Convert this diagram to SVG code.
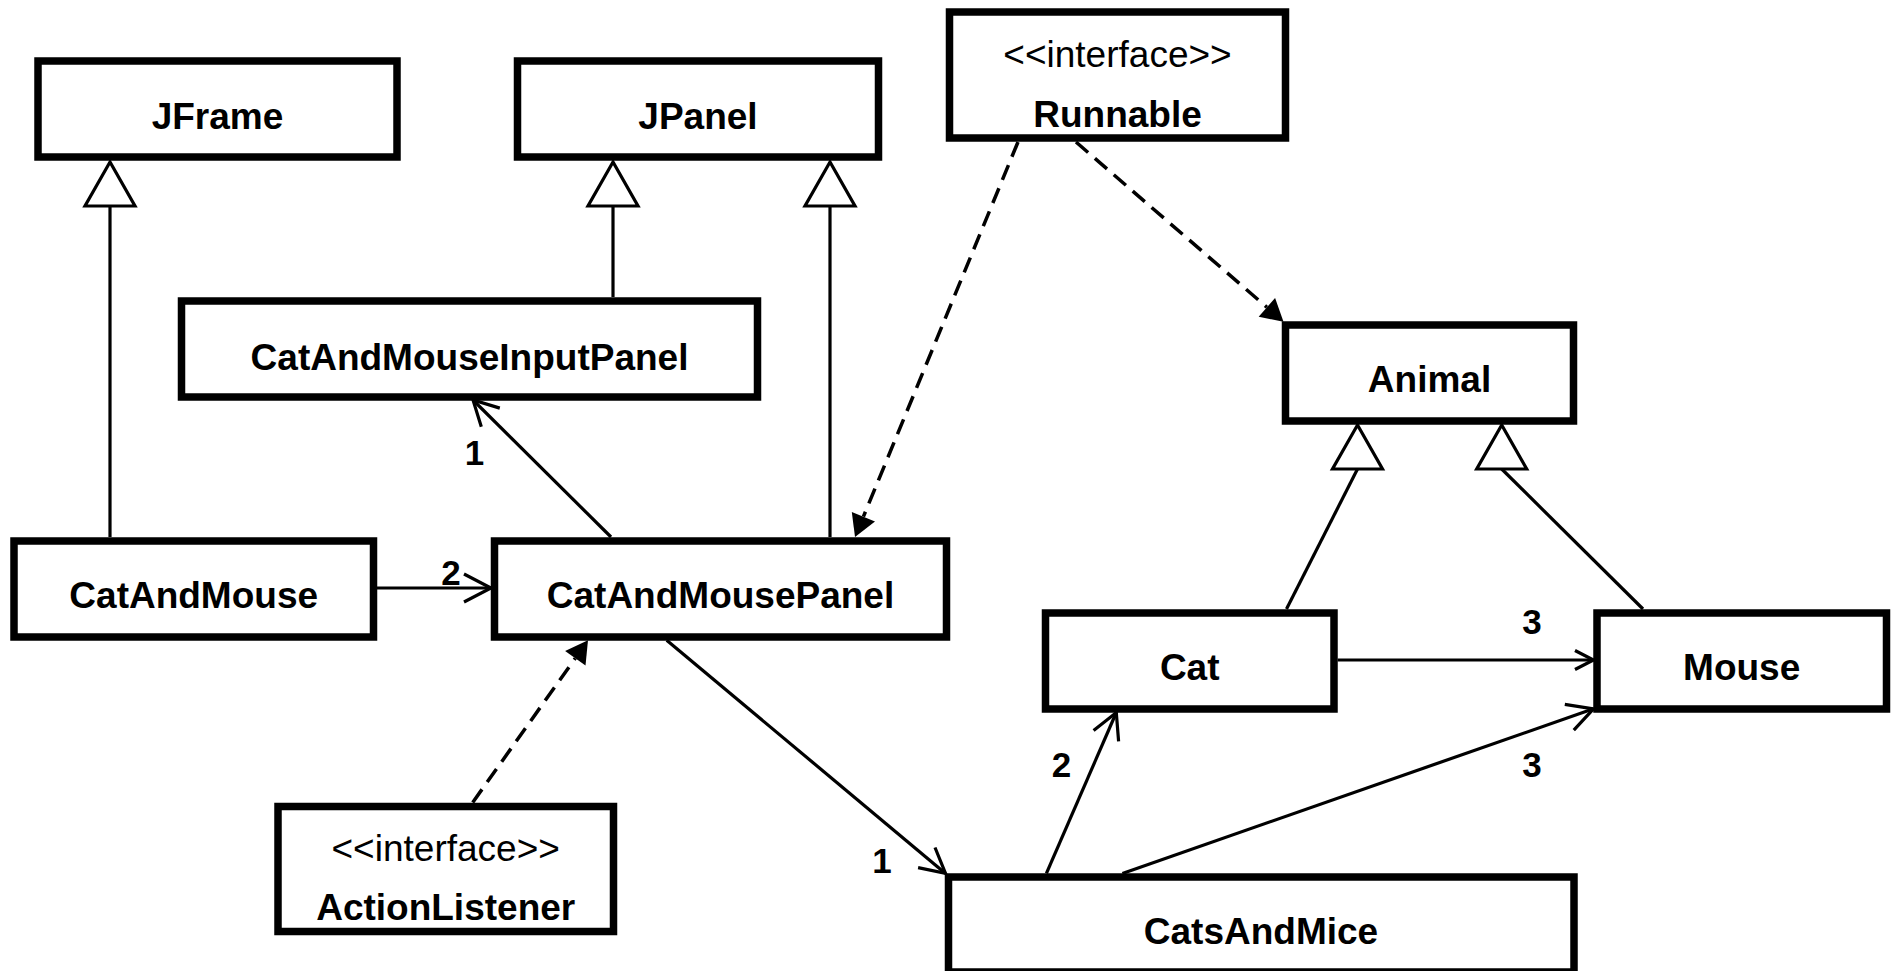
<svg xmlns="http://www.w3.org/2000/svg" width="1893" height="971" viewBox="0 0 1893 971">
<style>
.box{fill:#fff;stroke:#000;stroke-width:7.5}
.name{font-family:"Liberation Sans",Arial,sans-serif;font-weight:bold;font-size:37px;text-anchor:middle;fill:#000}
.stereo{font-family:"Liberation Sans",Arial,sans-serif;font-size:37px;text-anchor:middle;fill:#000}
.lbl{font-family:"Liberation Sans",Arial,sans-serif;font-weight:bold;font-size:35px;text-anchor:middle;fill:#000}
.ln{fill:none;stroke:#000;stroke-width:3.2}
.dash{fill:none;stroke:#000;stroke-width:3.5;stroke-dasharray:16 9}
.tri{fill:#fff;stroke:#000;stroke-width:3.2;stroke-linejoin:miter}
.fill{fill:#000;stroke:none}
</style>
<rect x="0" y="0" width="1893" height="971" fill="#fff"/>
<g id="connectors">
  <line class="ln" x1="110" y1="206" x2="110" y2="537"/>
  <polygon class="tri" points="110,162 85,206 135,206"/>
  <line class="ln" x1="613" y1="206" x2="613" y2="297"/>
  <polygon class="tri" points="613,162 588,206 638,206"/>
  <line class="ln" x1="830" y1="206" x2="830" y2="537"/>
  <polygon class="tri" points="830,162 805,206 855,206"/>
  <line class="ln" x1="1357.5" y1="469" x2="1286.5" y2="609"/>
  <polygon class="tri" points="1357.5,425 1332.5,469 1382.5,469"/>
  <line class="ln" x1="1501.7" y1="469" x2="1643" y2="609"/>
  <polygon class="tri" points="1501.7,425 1476.7,469 1526.7,469"/>
  <line class="dash" x1="1018" y1="142" x2="863.4" y2="516.7"/>
  <polygon class="fill" points="855,537 875,521.4 851.8,511.9"/>
  <line class="dash" x1="1076" y1="142" x2="1266.9" y2="307.3"/>
  <polygon class="fill" points="1283.5,321.7 1258.7,316.8 1275.1,297.9"/>
  <line class="dash" x1="472.7" y1="802.4" x2="575.3" y2="658.2"/>
  <polygon class="fill" points="588,640.3 585.5,665.4 565.1,651"/>
  <line class="ln" x1="611" y1="537" x2="473" y2="400"/>
  <polyline class="ln" points="499.8,408.1 473,400 481.3,426.8"/>
  <text class="lbl" x="474.5" y="465">1</text>
  <line class="ln" x1="377" y1="588" x2="491" y2="588"/>
  <polyline class="ln" points="464,574 491,588 464,602"/>
  <text class="lbl" x="451" y="585">2</text>
  <line class="ln" x1="666.7" y1="640.3" x2="945.5" y2="873.4"/>
  <polyline class="ln" points="918.1,867.6 945.5,873.4 935,847.5"/>
  <text class="lbl" x="882" y="873">1</text>
  <line class="ln" x1="1337.6" y1="660" x2="1593.5" y2="660"/>
  <polyline class="ln" points="1575,650.5 1593.5,660 1575,669.5"/>
  <text class="lbl" x="1532" y="634">3</text>
  <line class="ln" x1="1046.4" y1="873.4" x2="1116.3" y2="712.5"/>
  <polyline class="ln" points="1093.6,730.5 1116.3,712.5 1118.6,741.4"/>
  <text class="lbl" x="1061.6" y="777">2</text>
  <line class="ln" x1="1122.4" y1="873.4" x2="1593.5" y2="708.8"/>
  <polyline class="ln" points="1564.8,704.4 1593.5,708.8 1573.8,730.1"/>
  <text class="lbl" x="1532" y="777">3</text>
</g>
<g id="JFrame">
  <rect class="box" x="38" y="61" width="359" height="96"/>
  <text class="name" x="217.5" y="129">JFrame</text>
</g>
<g id="JPanel">
  <rect class="box" x="517.5" y="61" width="361" height="96"/>
  <text class="name" x="698" y="129">JPanel</text>
</g>
<g id="Runnable">
  <rect class="box" x="949.5" y="12" width="336" height="126"/>
  <text class="stereo" x="1117.5" y="67">&lt;&lt;interface&gt;&gt;</text>
  <text class="name" x="1117.5" y="127">Runnable</text>
</g>
<g id="CatAndMouseInputPanel">
  <rect class="box" x="181.5" y="301" width="576" height="96"/>
  <text class="name" x="469.5" y="370">CatAndMouseInputPanel</text>
</g>
<g id="Animal">
  <rect class="box" x="1285.5" y="325" width="288" height="96"/>
  <text class="name" x="1429.5" y="392">Animal</text>
</g>
<g id="CatAndMouse">
  <rect class="box" x="14" y="541" width="359.5" height="96"/>
  <text class="name" x="193.7" y="608">CatAndMouse</text>
</g>
<g id="CatAndMousePanel">
  <rect class="box" x="494.5" y="541" width="452" height="96"/>
  <text class="name" x="720.5" y="608">CatAndMousePanel</text>
</g>
<g id="Cat">
  <rect class="box" x="1045.5" y="613" width="288.5" height="96"/>
  <text class="name" x="1189.7" y="680">Cat</text>
</g>
<g id="Mouse">
  <rect class="box" x="1597" y="613" width="289.5" height="96"/>
  <text class="name" x="1741.7" y="680">Mouse</text>
</g>
<g id="ActionListener">
  <rect class="box" x="278" y="806.5" width="335.5" height="125"/>
  <text class="stereo" x="445.7" y="861">&lt;&lt;interface&gt;&gt;</text>
  <text class="name" x="445.7" y="920">ActionListener</text>
</g>
<g id="CatsAndMice">
  <rect class="box" x="948.5" y="877" width="625.5" height="95"/>
  <text class="name" x="1261" y="944">CatsAndMice</text>
</g>
</svg>
